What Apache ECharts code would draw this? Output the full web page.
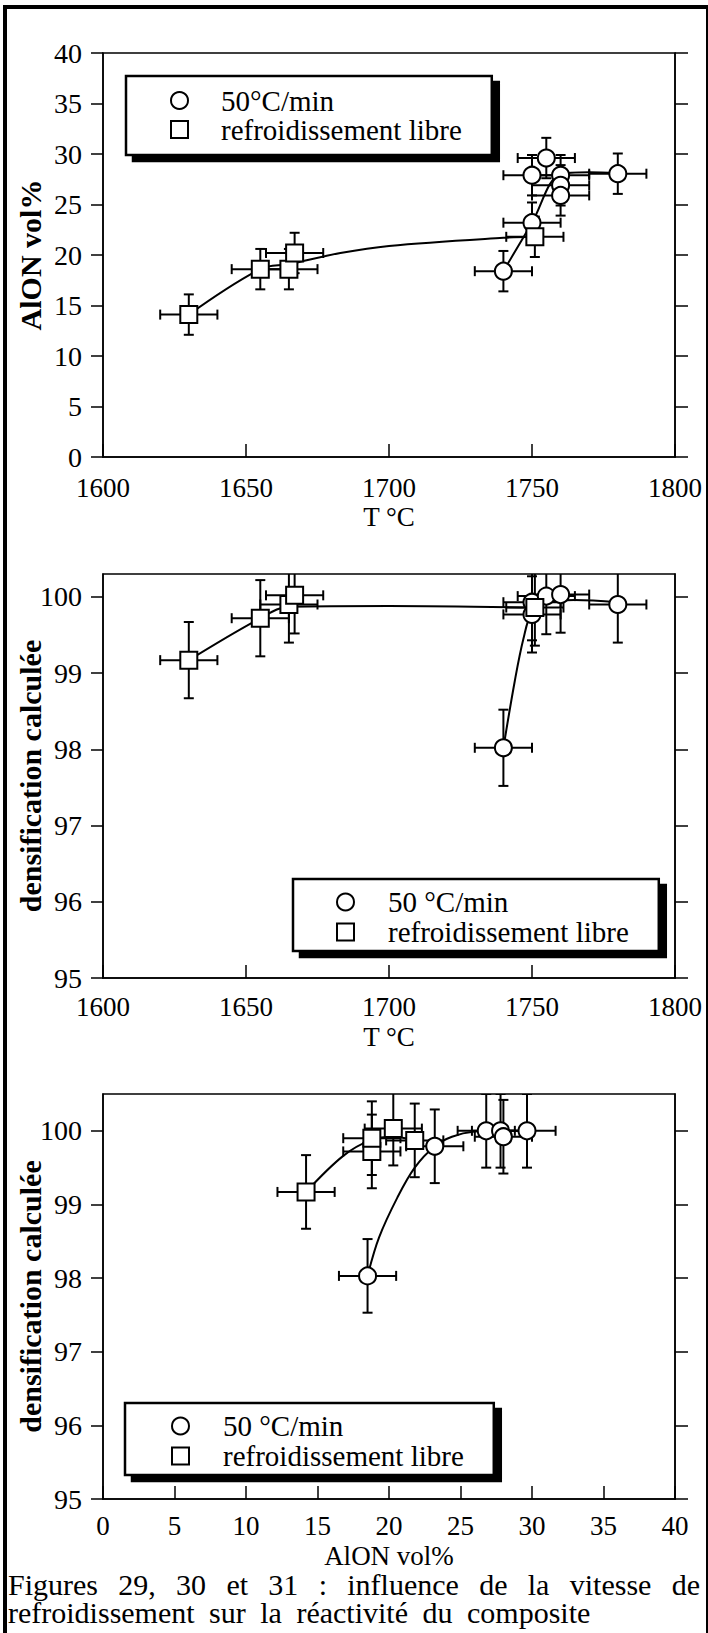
<!DOCTYPE html>
<html>
<head>
<meta charset="utf-8">
<script src="https://cdn.jsdelivr.net/npm/echarts@6.0.0/dist/echarts.min.js"></script>
<style>
html,body{margin:0;padding:0;background:#fff;width:708px;height:1633px;overflow:hidden}
#chart{position:absolute;left:0;top:0;width:708px;height:1633px}
#frame{position:absolute;left:3px;top:5px;width:699px;height:1640px;border-left:4px solid #000;border-top:4px solid #000;border-right:2px solid #000;pointer-events:none}
#caption{position:absolute;left:8px;top:1571px;width:692px;font-family:'Liberation Serif',serif;font-size:30px;line-height:28px;color:#000;text-align:justify;word-spacing:7px}
</style>
</head>
<body>
<div id="chart"></div>
<div id="frame"></div>
<div id="caption">Figures 29, 30 et 31 : influence de la vitesse de refroidissement sur la réactivité du composite</div>
<script>
// ---------- tick values ----------
const tempTicks = [1600, 1650, 1700, 1750, 1800];
const alonTicks = [0, 5, 10, 15, 20, 25, 30, 35, 40];
const densTicks = [95, 96, 97, 98, 99, 100];

// ---------- Figure 29 : AlON vol% vs T ----------
const f29CircT    = [1740, 1750, 1750, 1755, 1760, 1760, 1760, 1780];
const f29CircAlon = [18.4, 23.2, 27.9, 29.6, 27.9, 26.9, 25.9, 28.05];
const f29SqT      = [1630, 1655, 1665, 1667, 1751];
const f29SqAlon   = [14.1, 18.6, 18.6, 20.2, 21.8];
const f29CurveSqT    = [1630, 1655, 1665, 1683, 1700, 1740, 1751];
const f29CurveSqAlon = [14.1, 18.6, 19.1, 20.2, 20.9, 21.7, 21.8];
const f29CurveCircT    = [1740, 1750, 1760, 1770, 1780];
const f29CurveCircAlon = [18.4, 23.2, 28.0, 28.2, 28.1];
const f29ErrT = 10, f29ErrAlon = 2;

// ---------- Figure 30 : densification vs T ----------
const f30CircT    = [1740, 1750, 1750, 1755, 1760, 1780];
const f30CircDens = [98.02, 99.93, 99.77, 100.01, 100.03, 99.9];
const f30SqT      = [1630, 1655, 1665, 1667, 1751];
const f30SqDens   = [99.17, 99.72, 99.9, 100.02, 99.86];
const f30CurveSqT    = [1630, 1655, 1665, 1700, 1751];
const f30CurveSqDens = [99.17, 99.72, 99.87, 99.88, 99.86];
const f30CurveCircT    = [1740, 1744, 1747, 1750, 1755, 1765, 1780];
const f30CurveCircDens = [98.02, 98.9, 99.45, 99.8, 99.92, 99.96, 99.93];
const f30ErrT = 10, f30ErrDens = 0.5;

// ---------- Figure 31 : densification vs AlON vol% ----------
const f31CircAlon = [18.5, 23.2, 26.8, 27.8, 28.0, 29.65];
const f31CircDens = [98.03, 99.79, 100.0, 100.0, 99.92, 100.0];
const f31SqAlon   = [14.2, 18.8, 18.8, 20.3, 21.8];
const f31SqDens   = [99.17, 99.72, 99.9, 100.03, 99.87];
const f31CurveSqAlon = [14.2, 16.8, 18.8, 20.3, 21.8];
const f31CurveSqDens = [99.17, 99.66, 99.88, 99.92, 99.87];
const f31CurveCircAlon = [18.5, 19.3, 20.6, 21.8, 23.2, 24.4, 26.0, 27.5, 29.65];
const f31CurveCircDens = [98.03, 98.55, 99.1, 99.5, 99.79, 99.92, 99.99, 100.0, 100.0];
const f31ErrAlon = 2, f31ErrDens = 0.5;

// ---------- labels ----------
const nameCirc1 = '50°C/min';
const nameCirc2 = '50 °C/min';
const nameSq = 'refroidissement libre';

const FONT = 'Liberation Serif';
const BLACK = '#000';

function pairs(xs, ys) { return xs.map((x, i) => [x, ys[i]]); }

function errRender(params, api) {
  const x = api.value(0), y = api.value(1), ex = api.value(2), ey = api.value(3);
  const cs = params.coordSys;
  const left = cs.x, right = cs.x + cs.width, top = cs.y, bottom = cs.y + cs.height;
  const L = api.coord([x - ex, y]), R = api.coord([x + ex, y]);
  const T = api.coord([x, y + ey]), B = api.coord([x, y - ey]);
  const cap = 5;
  const st = { stroke: BLACK, lineWidth: 2 };
  const ch = [];
  ch.push({ type: 'line', shape: { x1: Math.max(L[0], left), y1: L[1], x2: Math.min(R[0], right), y2: R[1] }, style: st });
  if (L[0] >= left) ch.push({ type: 'line', shape: { x1: L[0], y1: L[1] - cap, x2: L[0], y2: L[1] + cap }, style: st });
  if (R[0] <= right) ch.push({ type: 'line', shape: { x1: R[0], y1: R[1] - cap, x2: R[0], y2: R[1] + cap }, style: st });
  ch.push({ type: 'line', shape: { x1: T[0], y1: Math.max(T[1], top), x2: B[0], y2: Math.min(B[1], bottom) }, style: st });
  if (T[1] >= top) ch.push({ type: 'line', shape: { x1: T[0] - cap, y1: T[1], x2: T[0] + cap, y2: T[1] }, style: st });
  if (B[1] <= bottom) ch.push({ type: 'line', shape: { x1: B[0] - cap, y1: B[1], x2: B[0] + cap, y2: B[1] }, style: st });
  return { type: 'group', children: ch };
}

function errSeries(xs, ys, ex, ey, xi, yi) {
  return {
    type: 'custom', xAxisIndex: xi, yAxisIndex: yi, z: 2, silent: true, clip: true,
    renderItem: errRender,
    data: xs.map((x, i) => [x, ys[i], ex, ey])
  };
}
function curveSeries(xs, ys, xi, yi) {
  return {
    type: 'line', xAxisIndex: xi, yAxisIndex: yi, z: 3, silent: true,
    smooth: 0.35, showSymbol: false, symbol: 'none',
    lineStyle: { color: BLACK, width: 2 },
    data: pairs(xs, ys)
  };
}
function scatterSeries(name, symbol, xs, ys, xi, yi, z) {
  return {
    type: 'scatter', name: name, xAxisIndex: xi, yAxisIndex: yi, z: z,
    symbol: symbol, symbolSize: 17,
    itemStyle: { color: '#fff', borderColor: BLACK, borderWidth: 2, opacity: 1 },
    data: pairs(xs, ys)
  };
}

const lineStyle = { color: BLACK, width: 1.5 };
function labelStyle(margin, size) {
  return { color: BLACK, fontFamily: FONT, fontSize: size, lineHeight: 24, margin: margin,
           formatter: function (v) { return String(v); } };
}
const nameStyleX = { color: BLACK, fontFamily: FONT, fontSize: 27, lineHeight: 24 };
const nameStyleY = { color: BLACK, fontFamily: FONT, fontSize: 30, fontWeight: 'bold', lineHeight: 26 };

function xAxis(gi, ticks, name, labelMargin, gap) {
  return {
    gridIndex: gi, type: 'value', position: 'bottom',
    min: ticks[0], max: ticks[ticks.length - 1], interval: ticks[1] - ticks[0],
    axisLine: { show: true, onZero: false, lineStyle: lineStyle },
    axisTick: { show: true, inside: true, length: 13, lineStyle: lineStyle },
    axisLabel: labelStyle(labelMargin, 27),
    splitLine: { show: false },
    name: name, nameLocation: 'middle', nameGap: gap, nameTextStyle: nameStyleX,
    nameMoveOverlap: false
  };
}
function yAxes(gi, ticks, maxV, name, gap) {
  const custom = (maxV !== ticks[ticks.length - 1]);
  const left = {
    gridIndex: gi, type: 'value', position: 'left',
    min: ticks[0], max: maxV, interval: ticks[1] - ticks[0],
    axisLine: { show: true, onZero: false, lineStyle: lineStyle },
    axisTick: { show: true, inside: false, length: 12, lineStyle: lineStyle },
    axisLabel: labelStyle(21, 28),
    splitLine: { show: false },
    name: name, nameLocation: 'middle', nameRotate: 90, nameGap: gap, nameTextStyle: nameStyleY,
    nameMoveOverlap: false
  };
  const right = {
    gridIndex: gi, type: 'value', position: 'right',
    min: ticks[0], max: maxV, interval: ticks[1] - ticks[0],
    axisLine: { show: true, onZero: false, lineStyle: lineStyle },
    axisTick: { show: true, inside: false, length: 13, lineStyle: lineStyle },
    axisLabel: { show: false },
    splitLine: { show: false }
  };
  if (custom) {
    left.axisTick.customValues = ticks;
    left.axisLabel.customValues = ticks;
    right.axisTick.customValues = ticks;
  }
  return [left, right];
}

function legend(left, top, circName, pad, textPad, lh) {
  return {
    left: left, top: top, orient: 'vertical', selectedMode: false,
    data: [{ name: circName, icon: 'circle' }, { name: nameSq, icon: 'rect' }],
    itemWidth: 17, itemHeight: 17, itemGap: 0,
    padding: pad,
    backgroundColor: '#fff', borderColor: BLACK, borderWidth: 2.5, borderRadius: 0,
    shadowColor: BLACK, shadowBlur: 0, shadowOffsetX: 7, shadowOffsetY: 6,
    itemStyle: { color: '#fff', borderColor: BLACK, borderWidth: 2 },
    textStyle: { color: BLACK, fontFamily: FONT, fontSize: 29, lineHeight: lh, padding: [0, 0, 0, textPad] }
  };
}

const gridBase = { show: true, borderColor: BLACK, borderWidth: 1.5, backgroundColor: 'transparent', outerBoundsMode: 'none', containLabel: false };

const option = {
  animation: false,
  backgroundColor: '#fff',
  textStyle: { fontFamily: FONT },
  grid: [
    Object.assign({ left: 103, top: 53, width: 572, height: 404 }, gridBase),
    Object.assign({ left: 103, top: 574, width: 572, height: 404 }, gridBase),
    Object.assign({ left: 103, top: 1094, width: 572, height: 405 }, gridBase)
  ],
  xAxis: [
    xAxis(0, tempTicks, 'T °C', 19, 48),
    xAxis(1, tempTicks, 'T °C', 17, 47),
    xAxis(2, alonTicks, 'AlON vol%', 15, 45)
  ],
  yAxis: [].concat(
    yAxes(0, alonTicks, 40, 'AlON vol%', 60),
    yAxes(1, densTicks, 100.3, 'densification calculée', 60),
    yAxes(2, densTicks, 100.5, 'densification calculée', 60)
  ),
  legend: [
    legend(126, 76, nameCirc1, [10, 30, 11, 44], 28, 28),
    legend(293, 879, nameCirc2, [8, 30, 4, 43], 29, 30),
    legend(125, 1403, nameCirc2, [8, 30, 4, 46], 29, 30)
  ],
  series: [
    errSeries(f29SqT, f29SqAlon, f29ErrT, f29ErrAlon, 0, 0),
    errSeries(f29CircT, f29CircAlon, f29ErrT, f29ErrAlon, 0, 0),
    curveSeries(f29CurveSqT, f29CurveSqAlon, 0, 0),
    curveSeries(f29CurveCircT, f29CurveCircAlon, 0, 0),
    scatterSeries(nameCirc1, 'circle', f29CircT, f29CircAlon, 0, 0, 4),
    scatterSeries(nameSq, 'rect', f29SqT, f29SqAlon, 0, 0, 5),

    errSeries(f30SqT, f30SqDens, f30ErrT, f30ErrDens, 1, 2),
    errSeries(f30CircT, f30CircDens, f30ErrT, f30ErrDens, 1, 2),
    curveSeries(f30CurveSqT, f30CurveSqDens, 1, 2),
    curveSeries(f30CurveCircT, f30CurveCircDens, 1, 2),
    scatterSeries(nameCirc2, 'circle', f30CircT, f30CircDens, 1, 2, 4),
    scatterSeries(nameSq, 'rect', f30SqT, f30SqDens, 1, 2, 5),

    errSeries(f31SqAlon, f31SqDens, f31ErrAlon, f31ErrDens, 2, 4),
    errSeries(f31CircAlon, f31CircDens, f31ErrAlon, f31ErrDens, 2, 4),
    curveSeries(f31CurveSqAlon, f31CurveSqDens, 2, 4),
    curveSeries(f31CurveCircAlon, f31CurveCircDens, 2, 4),
    scatterSeries(nameCirc2, 'circle', f31CircAlon, f31CircDens, 2, 4, 4),
    scatterSeries(nameSq, 'rect', f31SqAlon, f31SqDens, 2, 4, 5)
  ]
};

const chart = echarts.init(document.getElementById('chart'), null, { renderer: 'svg', width: 708, height: 1633 });
chart.setOption(option);
</script>
</body>
</html>
